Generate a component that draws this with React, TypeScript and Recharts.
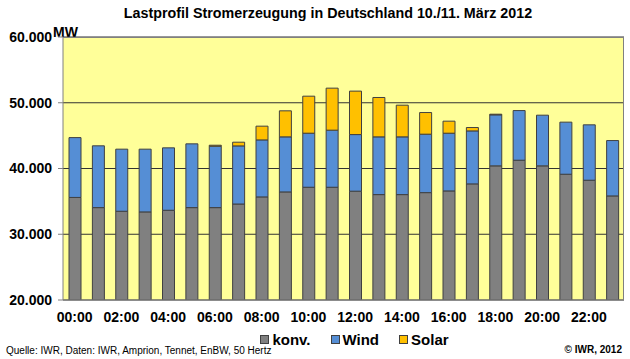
import { Bar, BarChart, CartesianGrid, XAxis, YAxis } from "recharts";

const HOURS = [
  "00:00", "01:00", "02:00", "03:00", "04:00", "05:00", "06:00", "07:00",
  "08:00", "09:00", "10:00", "11:00", "12:00", "13:00", "14:00", "15:00",
  "16:00", "17:00", "18:00", "19:00", "20:00", "21:00", "22:00", "23:00",
];

const KONV = [
  35600, 34050, 33500, 33400, 33650, 34050, 34050, 34600,
  35680, 36440, 37150, 37150, 36550, 36030, 36030, 36330,
  36590, 37660, 40400, 41260, 40400, 39130, 38220, 35830,
];

const WIND = [
  9100, 9400, 9440, 9540, 9490, 9700, 9340, 8840,
  8670, 8370, 8220, 8680, 8610, 8780, 8780, 8890,
  8780, 8060, 7760, 7550, 7710, 7920, 8420, 8420,
];

const SOLAR = [
  0, 0, 0, 0, 0, 0, 150, 560,
  2090, 3960, 5630, 6390, 6610, 5990, 4820, 3290,
  1830, 510, 100, 0, 0, 0, 0, 0,
];

const Y_TICKS = [20000, 30000, 40000, 50000, 60000];
const BOUNDARY_TICKS = Array.from({ length: 25 }, (_, i) => i);

const SERIES = [
  { key: "konv", label: "konv.", color: "#808080" },
  { key: "wind", label: "Wind", color: "#558ED5" },
  { key: "solar", label: "Solar", color: "#FFC000" },
];

const FONT = "Arial, 'Liberation Sans', sans-serif";

const data = HOURS.map((hour, i) => ({
  hour,
  idx: i + 0.5,
  konv: KONV[i],
  wind: WIND[i],
  solar: SOLAR[i],
}));

function formatThousands(value: number): string {
  return value.toLocaleString("de-DE");
}

export default function App() {
  return (
    <div
      style={{
        position: "absolute",
        left: 0,
        top: 0,
        width: 630,
        height: 359,
        background: "#ffffff",
        fontFamily: FONT,
        overflow: "hidden",
      }}
    >
      <div
        style={{
          position: "absolute",
          left: 0,
          width: 656,
          top: 5,
          textAlign: "center",
          fontSize: 14.3,
          fontWeight: "bold",
          color: "#000",
        }}
      >
        Lastprofil Stromerzeugung in Deutschland 10./11. März 2012
      </div>
      <div
        style={{
          position: "absolute",
          left: 53,
          top: 24,
          fontSize: 14,
          fontWeight: "bold",
        }}
      >
        MW
      </div>
      <BarChart
        data={data}
        height={359}
        margin={{ bottom: 38, left: 0, right: 6, top: 37 }}
        width={630}
      >
        <CartesianGrid
          fill="#FFFF99"
          horizontal
          stroke="#333333"
          vertical={false}
          ticks={Y_TICKS}
        />
        <XAxis
          allowDataOverflow
          axisLine={false}
          dataKey="idx"
          domain={[0, 24]}
          height={1}
          tick={false}
          tickLine={{ stroke: "#808080" }}
          tickSize={5}
          ticks={BOUNDARY_TICKS}
          type="number"
          xAxisId="bounds"
        />
        <XAxis
          axisLine={{ stroke: "#808080" }}
          dataKey="hour"
          height={20}
          interval={1}
          tick={{ fill: "#000", fontSize: 14, fontWeight: "bold", fontFamily: FONT }}
          tickLine={false}
          tickMargin={12}
          tickSize={0}
        />
        <YAxis
          axisLine={{ stroke: "#808080" }}
          domain={[20000, 60000]}
          tick={{ fill: "#000", fontSize: 14, fontWeight: "bold", fontFamily: FONT }}
          tickFormatter={formatThousands}
          tickLine={{ stroke: "#808080" }}
          tickMargin={6}
          tickSize={5}
          ticks={Y_TICKS}
          width={63}
          allowDataOverflow
        />
        {SERIES.map((s) => (
          <Bar
            barSize={12}
            dataKey={s.key}
            fill={s.color}
            isAnimationActive={false}
            key={s.key}
            stackId="a"
            stroke="#404040"
            strokeWidth={1}
          />
        ))}
      </BarChart>
      <div
        style={{
          position: "absolute",
          left: 63,
          top: 37,
          width: 561,
          height: 263,
          boxSizing: "border-box",
          borderTop: "1px solid #808080",
          borderRight: "1px solid #808080",
          pointerEvents: "none",
        }}
      />
      <div
        style={{
          position: "absolute",
          left: 0,
          width: 630,
          top: 331,
          display: "flex",
          justifyContent: "center",
          paddingLeft: 79,
          boxSizing: "border-box",
          fontSize: 15,
          fontWeight: "bold",
        }}
      >
        {SERIES.map((s, i) => (
          <span
            key={s.key}
            style={{ display: "flex", alignItems: "center", marginLeft: i === 0 ? 0 : 20 }}
          >
            <span
              style={{
                display: "inline-block",
                width: 7,
                height: 7,
                background: s.color,
                border: "1px solid #404040",
                marginRight: 3,
              }}
            />
            {s.label}
          </span>
        ))}
      </div>
      <div
        style={{
          position: "absolute",
          left: 6,
          top: 345,
          fontSize: 10,
          color: "#000",
        }}
      >
        Quelle: IWR, Daten: IWR, Amprion, Tennet, EnBW, 50 Hertz
      </div>
      <div
        style={{
          position: "absolute",
          right: 8,
          top: 344,
          fontSize: 10,
          fontWeight: "bold",
        }}
      >
        © IWR, 2012
      </div>
    </div>
  );
}
